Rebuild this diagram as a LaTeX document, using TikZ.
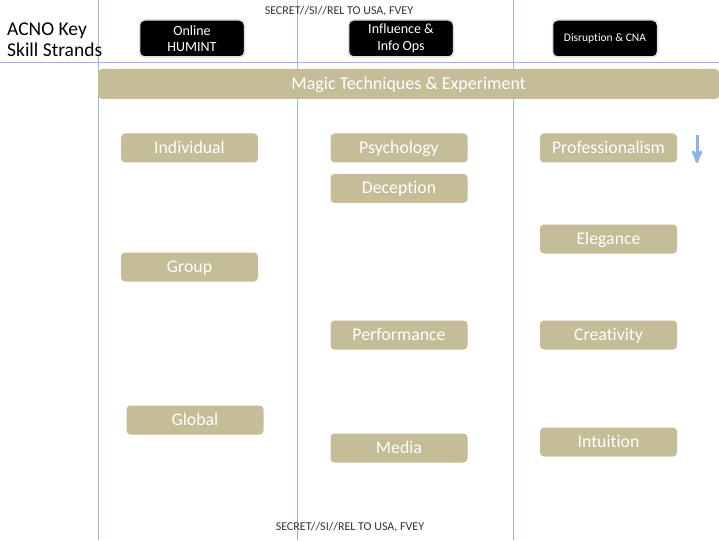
\documentclass[tikz,border=0pt]{standalone}
\usepackage{fontspec}
\setmainfont[Ligatures=NoCommon]{Carlito}
\usetikzlibrary{arrows,positioning}
\definecolor{khaki}{HTML}{C4BD97}
\definecolor{gridblue}{HTML}{9DB7D9}
\definecolor{arrblue}{HTML}{8EB4E3}
\begin{document}
\begin{tikzpicture}[x=1pt,y=-1pt,>=stealth',
  skill node/.style={rectangle,rounded corners=4pt,fill=khaki,text=white,minimum width=137pt,minimum height=29pt,inner sep=0pt,text height=13.5pt,text depth=3pt,font=\fontsize{17.8}{20}\selectfont},
  head node/.style={rectangle,rounded corners=5pt,fill=black,draw=black!12,line width=1.5pt,text=white,minimum width=105pt,minimum height=37pt,inner sep=0pt,align=center,font=\fontsize{14}{16.5}\selectfont},
  mark text/.style={font=\fontsize{12}{14}\selectfont,text=black!80,inner sep=0pt}]

  \useasboundingbox[fill=white] (0,0) rectangle (719,540);

  % grid lines
  \draw[gridblue,line width=1pt] (98,0) -- (98,540);
  \draw[gridblue,line width=1pt] (297,0) -- (297,540);
  \draw[gridblue,line width=1pt] (513,0) -- (513,540);
  \draw[gridblue,line width=1pt] (0,63) -- (719,63);

  \node[mark text] (top) at (339,11) {SECRET//SI//REL TO USA, FVEY};
  \node[mark text] (bottom) at (350,527) {SECRET//SI//REL TO USA, FVEY};

  \node[anchor=west,align=left,inner sep=0pt,font=\fontsize{19.5}{21}\selectfont] (title) at (7,40) {ACNO Key\\Skill Strands};

  \node[head node] (humint) at (192,38.5) {Online\\HUMINT};
  \node[head node] (influence) at (401,38.5) {Influence \&\\Info Ops};
  \node[head node,font=\fontsize{11.5}{13}\selectfont] (cna) at (605,38.5) {Disruption \& CNA};

  \node[skill node,minimum width=621pt,minimum height=30pt,anchor=west,font=\fontsize{18}{20}\selectfont] (magic) at (98,84) {Magic Techniques \& Experiment};

  % first strand
  \node[skill node] (ind) at (189.5,148) {Individual};
  \node[skill node] (grp) at (189.5,267) {Group};
  \node[skill node] (glob) at (195,420) {Global};

  % second strand
  \node[skill node] (psy) at (399,148) {Psychology};
  \node[skill node] (dec) [below=11pt of psy] {Deception};
  \node[skill node] (perf) at (399,335) {Performance};
  \node[skill node] (media) at (399,448) {Media};

  % third strand
  \node[skill node] (prof) at (608.5,148) {Professionalism};
  \node[skill node] (eleg) at (608.5,239) {Elegance};
  \node[skill node] (creat) at (608.5,335) {Creativity};
  \node[skill node] (intu) at (608.5,442) {Intuition};

  \coordinate (arrtop) at (697,135);
  \coordinate (arrbot) at (697,163);
  \draw[->,arrblue,line width=3pt] (arrtop) -- (arrbot);
\end{tikzpicture}
\end{document}
